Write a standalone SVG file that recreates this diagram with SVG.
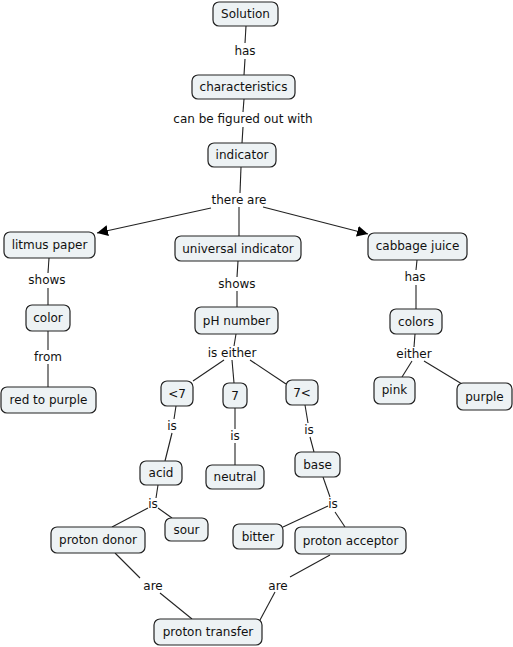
<svg xmlns="http://www.w3.org/2000/svg" width="513" height="647" viewBox="0 0 513 647">
<style>
.n rect{fill:#edf2f4;stroke:#222;stroke-width:1.2}
text{font-family:"DejaVu Sans","Verdana",sans-serif;font-size:12px;fill:#111;text-anchor:middle;dominant-baseline:central}
.c line{stroke:#222;stroke-width:1.1}
</style>
<defs>
<marker id="ar" viewBox="0 0 10 10" refX="10" refY="5" markerWidth="11" markerHeight="11" markerUnits="userSpaceOnUse" orient="auto"><path d="M0,0L10,5L0,10z" fill="#000"/></marker>
</defs>
<rect width="513" height="647" fill="#fff"/>
<g class="c" id="connectors">
<line x1="246" y1="26" x2="245" y2="43"/><line x1="245" y1="59" x2="244" y2="75"/>
<line x1="244" y1="99" x2="243" y2="112"/><line x1="243" y1="127" x2="242" y2="143"/>
<line x1="241" y1="167" x2="240" y2="193"/><line x1="239" y1="207" x2="239" y2="236"/>
<line x1="211" y1="208" x2="97" y2="233" marker-end="url(#ar)"/>
<line x1="263" y1="207" x2="368" y2="234" marker-end="url(#ar)"/>
<line x1="49" y1="258" x2="48" y2="273"/><line x1="48" y1="288" x2="48" y2="305"/>
<line x1="48" y1="331" x2="48" y2="350"/><line x1="48" y1="364" x2="48" y2="387"/>
<line x1="238" y1="261" x2="237" y2="277"/><line x1="237" y1="291" x2="237" y2="307"/>
<line x1="236" y1="334" x2="234" y2="346"/>
<line x1="224" y1="360" x2="193" y2="381"/><line x1="232" y1="360" x2="234" y2="383"/><line x1="250" y1="360" x2="286" y2="384"/>
<line x1="417" y1="260" x2="416" y2="270"/><line x1="416" y1="285" x2="416" y2="309"/>
<line x1="415" y1="334" x2="414" y2="347"/><line x1="412" y1="361" x2="402" y2="377"/><line x1="424" y1="361" x2="462" y2="384"/>
<line x1="176" y1="406" x2="174" y2="419"/><line x1="172" y1="433" x2="165" y2="461"/>
<line x1="235" y1="408" x2="235" y2="429"/><line x1="235" y1="443" x2="235" y2="465"/>
<line x1="305" y1="405" x2="308" y2="423"/><line x1="310" y1="437" x2="314" y2="452"/>
<line x1="158" y1="485" x2="156" y2="498"/><line x1="148" y1="508" x2="112" y2="527"/><line x1="158" y1="508" x2="172" y2="518"/>
<line x1="323" y1="477" x2="330" y2="497"/><line x1="328" y1="506" x2="283" y2="527"/><line x1="335" y1="512" x2="345" y2="527"/>
<line x1="115" y1="553" x2="140" y2="578"/><line x1="160" y1="593" x2="192" y2="619"/>
<line x1="330" y1="555" x2="290" y2="577"/><line x1="275" y1="592" x2="260" y2="620"/>
</g>
<g id="labels">
<text x="245" y="51">has</text>
<text x="243" y="119">can be figured out with</text>
<text x="239" y="200">there are</text>
<text x="47" y="280">shows</text>
<text x="48" y="357">from</text>
<text x="237" y="284">shows</text>
<text x="232" y="353">is either</text>
<text x="415" y="277">has</text>
<text x="414" y="354">either</text>
<text x="172" y="426">is</text>
<text x="235" y="436">is</text>
<text x="309" y="430">is</text>
<text x="153" y="504">is</text>
<text x="333" y="504">is</text>
<text x="153" y="586">are</text>
<text x="278" y="586">are</text>
</g>
<g class="n" id="solution"><rect x="213" y="2" width="65" height="24" rx="6"/><text x="245.5" y="14">Solution</text></g>
<g class="n" id="characteristics"><rect x="192" y="75" width="103" height="24" rx="6"/><text x="243.5" y="87">characteristics</text></g>
<g class="n" id="indicator"><rect x="208" y="143" width="68" height="24" rx="6"/><text x="242" y="155">indicator</text></g>
<g class="n" id="litmus"><rect x="4" y="232" width="91" height="26" rx="6"/><text x="49.5" y="245">litmus paper</text></g>
<g class="n" id="universal"><rect x="175" y="236" width="126" height="25" rx="6"/><text x="238" y="248.5">universal indicator</text></g>
<g class="n" id="cabbage"><rect x="368" y="233" width="99" height="27" rx="6"/><text x="417.5" y="246">cabbage juice</text></g>
<g class="n" id="color"><rect x="26" y="305" width="44" height="26" rx="6"/><text x="48" y="318">color</text></g>
<g class="n" id="redpurple"><rect x="1" y="387" width="95" height="26" rx="6"/><text x="48.5" y="400">red to purple</text></g>
<g class="n" id="ph"><rect x="195" y="307" width="83" height="27" rx="6"/><text x="236.5" y="320.5">pH number</text></g>
<g class="n" id="colors"><rect x="390" y="309" width="52" height="25" rx="6"/><text x="416" y="321.5">colors</text></g>
<g class="n" id="pink"><rect x="374" y="377" width="41" height="27" rx="6"/><text x="394.5" y="390">pink</text></g>
<g class="n" id="purple"><rect x="457" y="383" width="55" height="27" rx="6"/><text x="484.5" y="396.5">purple</text></g>
<g class="n" id="lt7"><rect x="161" y="381" width="32" height="25" rx="6"/><text x="177" y="393.5">&lt;7</text></g>
<g class="n" id="seven"><rect x="223" y="383" width="24" height="25" rx="6"/><text x="235" y="395.5">7</text></g>
<g class="n" id="gt7"><rect x="286" y="380" width="32" height="25" rx="6"/><text x="302" y="392.5">7&lt;</text></g>
<g class="n" id="acid"><rect x="140" y="461" width="42" height="24" rx="6"/><text x="161" y="473">acid</text></g>
<g class="n" id="neutral"><rect x="206" y="465" width="58" height="24" rx="6"/><text x="235" y="477">neutral</text></g>
<g class="n" id="base"><rect x="295" y="452" width="45" height="25" rx="6"/><text x="317.5" y="464.5">base</text></g>
<g class="n" id="sour"><rect x="165" y="518" width="43" height="23" rx="6"/><text x="186.5" y="529.5">sour</text></g>
<g class="n" id="donor"><rect x="51" y="527" width="94" height="26" rx="6"/><text x="98" y="540">proton donor</text></g>
<g class="n" id="bitter"><rect x="233" y="524" width="50" height="25" rx="6"/><text x="258" y="536.5">bitter</text></g>
<g class="n" id="acceptor"><rect x="295" y="527" width="111" height="27" rx="6"/><text x="350.5" y="540.5">proton acceptor</text></g>
<g class="n" id="transfer"><rect x="154" y="619" width="108" height="26" rx="6"/><text x="208" y="632">proton transfer</text></g>
</svg>
